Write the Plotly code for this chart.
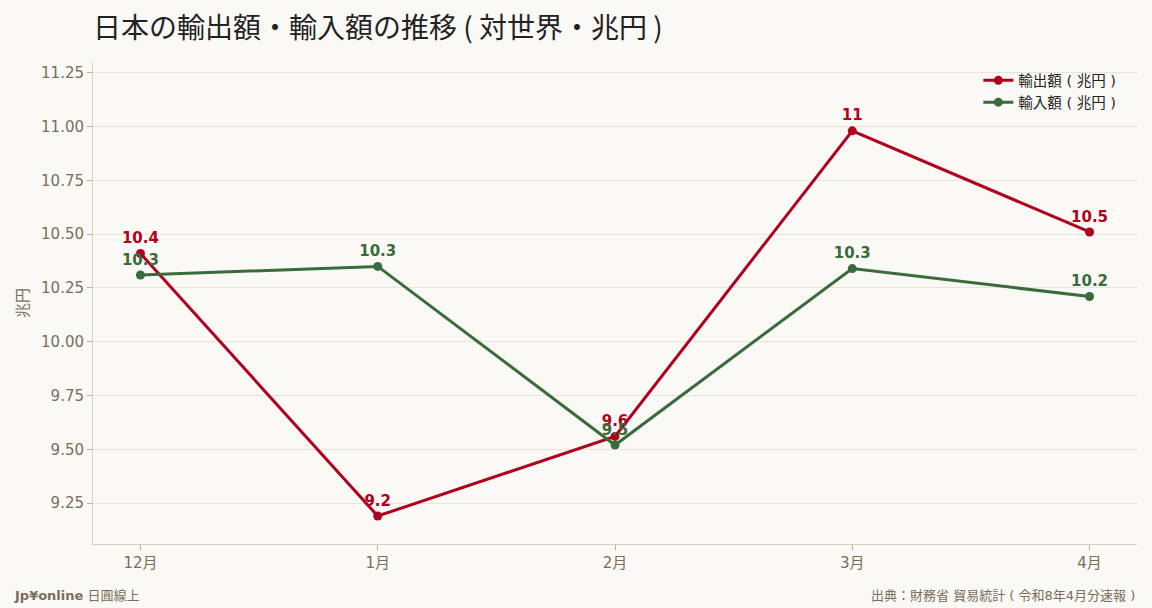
import plotly.graph_objects as go

months = ["12月", "1月", "2月", "3月", "4月"]
exports = [10.41, 9.19, 9.56, 10.98, 10.51]
imports = [10.31, 10.35, 9.52, 10.34, 10.21]

RED = "#b0001e"
GREEN = "#3a6b3a"
BG = "#faf9f5"
MUTED = "#7a6e5a"
FONT = "DejaVu Sans, Noto Sans CJK JP, sans-serif"


def labels(vals):
    return [f"{round(v, 1):g}" for v in vals]


fig = go.Figure()
fig.add_trace(go.Scatter(
    x=months, y=exports, name="輸出額 ( 兆円 )",
    mode="lines+markers+text", text=labels(exports), textposition="top center",
    line=dict(color=RED, width=3), marker=dict(size=9, color=RED),
    textfont=dict(color=RED, size=15, family="DejaVu Sans", weight="bold"),
    cliponaxis=False,
))
fig.add_trace(go.Scatter(
    x=months, y=imports, name="輸入額 ( 兆円 )",
    mode="lines+markers+text", text=labels(imports), textposition="top center",
    line=dict(color=GREEN, width=3), marker=dict(size=9, color=GREEN),
    textfont=dict(color=GREEN, size=15, family="DejaVu Sans", weight="bold"),
    cliponaxis=False,
))

fig.update_layout(
    width=1152, height=608,
    paper_bgcolor=BG, plot_bgcolor=BG,
    margin=dict(l=93, r=15, t=62, b=64),
    font=dict(family=FONT, color=MUTED, size=14),
    title=dict(text="日本の輸出額・輸入額の推移 ( 対世界・兆円 )", x=93 / 1152, xanchor="left",
               y=1 - 28 / 608, yanchor="middle",
               font=dict(size=28, color="#222222", family="Noto Sans CJK JP")),
    legend=dict(x=0.985, y=0.995, xanchor="right", yanchor="top",
                bgcolor="rgba(0,0,0,0)", font=dict(size=14.5, color="#222222")),
    showlegend=True,
)
fig.update_xaxes(
    range=[-0.2, 4.2], showgrid=False, showline=True, linecolor="#d8d0c0",
    ticks="outside", ticklen=5, tickcolor="#b8ae9a",
    tickfont=dict(size=15, color=MUTED),
)
fig.update_yaxes(
    range=[9.06, 11.30], tickvals=[9.25, 9.5, 9.75, 10.0, 10.25, 10.5, 10.75, 11.0, 11.25],
    tickformat=".2f", showgrid=True, gridcolor="#e8e4d8", showline=True, linecolor="#d8d0c0",
    ticks="outside", ticklen=5, tickcolor="#b8ae9a", zeroline=False,
    tickfont=dict(size=15, color=MUTED),
    title=dict(text="兆円", font=dict(size=15, color=MUTED), standoff=8),
)

fig.add_annotation(
    text="<b>Jp¥online</b> 日圓線上", xref="paper", yref="paper",
    x=-81 / 1044, y=-51 / 482, xanchor="left", yanchor="middle",
    showarrow=False, font=dict(size=13, color=MUTED),
)
fig.add_annotation(
    text="出典：財務省 貿易統計 ( 令和8年4月分速報 )", xref="paper", yref="paper",
    x=1, y=-51 / 482, xanchor="right", yanchor="middle",
    showarrow=False, font=dict(size=13, color=MUTED),
)

fig.write_html("out.html", config={"displayModeBar": False},
               post_script="document.body.style.margin='0';")
